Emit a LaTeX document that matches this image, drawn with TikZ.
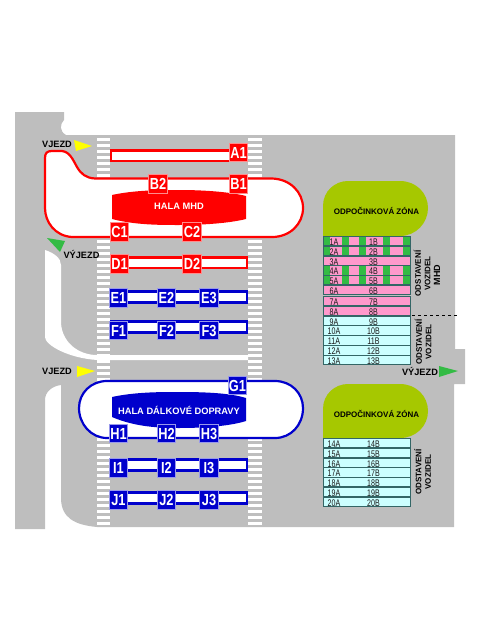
\documentclass[tikz,border=0pt]{standalone}
\usepackage{fontspec}
\setmainfont{Liberation Sans}
\newfontfamily\tallfont[FakeStretch=0.8]{Liberation Sans}
\newfontfamily\rowfont[FakeStretch=0.74]{Liberation Sans}
\definecolor{roadgray}{HTML}{BEBEBE}
\definecolor{zonegreen}{HTML}{A6C800}
\definecolor{arrowgreen}{HTML}{33BB44}
\definecolor{arrowyellow}{HTML}{FFFF00}
\definecolor{rowpink}{HTML}{FF99CC}
\definecolor{rowcyan}{HTML}{CCFFFF}
\definecolor{rowline}{HTML}{336666}
\definecolor{hallblue}{HTML}{0000CC}
\begin{document}
\begin{tikzpicture}[
    x=1pt, y=-1pt,
    redstop/.style={draw=red!45, line width=0.6pt, fill=red, text=white, minimum size=18.5pt,
                inner sep=0pt, font=\tallfont\fontsize{16}{16}\selectfont\bfseries},
    bluestop/.style={redstop, draw=hallblue!40, fill=hallblue},
    redbar/.style={draw=red, line width=2.2pt, fill=white},
    bluebar/.style={draw=hallblue, line width=2.2pt, fill=white},
    halltext/.style={text=white, inner sep=0pt, font=\fontsize{9.3}{9.3}\selectfont\bfseries},
    signtext/.style={inner sep=0pt, font=\fontsize{9.2}{9.2}\selectfont\bfseries},
    zonetext/.style={inner sep=0pt, font=\fontsize{8}{8}\selectfont\bfseries},
    sidetext/.style={rotate=90, align=center, inner sep=0pt, font=\fontsize{8}{8}\selectfont\bfseries},
    rowbox/.style={draw=rowline, line width=0.7pt},
    rowtext/.style={inner sep=0pt, text=black!90, font=\rowfont\fontsize{9.6}{9.6}\selectfont}]
    \useasboundingbox (0,0) rectangle (480,640);
    % road surface
    \fill[roadgray] (15,112) -- (64,112) -- (64,120) .. controls (60,124) and (59,131) .. (66,135)
        -- (455,135) -- (455,349) -- (465,349) -- (465,384) -- (454,384) -- (454,527) -- (97,527)
        .. controls (75,525) and (61,518) .. (61,498) -- (61,385)
        .. controls (52,386) and (45,392) .. (45,400) -- (45,529) -- (15,529) -- cycle;
    \fill[white] (45,250) .. controls (54,253) and (61,258) .. (61,265) -- (61,323)
        .. controls (62,342) and (78,355) .. (97,355) -- (248,355) -- (248,360) -- (97,360)
        .. controls (68,358) and (45,345) .. (45,337) -- cycle;
    % crossings
    \foreach \i in {0,...,64} {
        \fill[white] (97,137.5+6*\i) rectangle (110,141+6*\i);
        \fill[white] (248,137.5+6*\i) rectangle (262,141+6*\i);
    }
    % halls
    \draw[redbar] (45,158) .. controls (45,153) and (47,151) .. (52,151) -- (62,151)
        .. controls (70,152) and (73,160) .. (77,167) .. controls (81,174) and (86,178) .. (95,178.5)
        -- (272,178.5) .. controls (290,179) and (303,192) .. (303,208)
        .. controls (303,224) and (290,237) .. (272,237) -- (72,237)
        .. controls (55,236) and (45,222) .. (45,208) -- cycle;
    \fill[red] (112,195) .. controls (135,190) and (160,190) .. (179,190)
        .. controls (205,190) and (230,192) .. (246,196) -- (246,219)
        .. controls (230,223) and (205,225) .. (179,225)
        .. controls (160,225) and (135,225) .. (112,219) -- cycle;
    \node[halltext] (halamhd) at (179,206) {HALA MHD};
    \draw[bluebar] (107,381) -- (275,381) .. controls (291,381) and (303,393) .. (303,408)
        .. controls (303,425) and (291,438) .. (275,438) -- (107,438)
        .. controls (91,438) and (79,424) .. (79,408) .. controls (79,393) and (91,381) .. (107,381) -- cycle;
    \fill[hallblue] (112,397) .. controls (135,392) and (160,392) .. (179,392)
        .. controls (205,392) and (230,393) .. (246,398) -- (246,421)
        .. controls (230,426) and (205,428) .. (179,428)
        .. controls (160,428) and (135,427) .. (112,417) -- cycle;
    \node[halltext] (haladalkove) at (179,410.5) {HALA DÁLKOVÉ DOPRAVY};
    % bars
    \draw[redbar] (111,150.5) rectangle (232,161);
    \draw[redbar] (111,257.5) rectangle (247,268);
    \foreach \y in {291.5,321.5,459.5,492.5}
        \draw[bluebar] (111,\y) rectangle (247,\y+11);
    % stops
    \foreach \n/\x/\y in {A1/238.5/152.5, B1/238.5/184, B2/158/184, C1/119.5/232, C2/192/232, D1/119.5/264, D2/192/264}
        \node[redstop] (\n) at (\x,\y) {\n};
    \foreach \n/\x/\y in {E1/118.5/298, E2/166.5/298, E3/209/298, F1/118.5/330.5, F2/166.5/330.5, F3/209/330.5,
            G1/237.5/385.5, H1/118.5/433.5, H2/166.5/433.5, H3/209/433.5,
            I1/118.5/468, I2/166.5/468, I3/209/468, J1/118.5/500, J2/166.5/500, J3/209/500}
        \node[bluestop] (\n) at (\x,\y) {\n};
    % rest zones
    \foreach \t/\b/\z in {181/236/zonea, 384/438/zoneb} {
        \fill[zonegreen] (323,\b) -- (323,\t+25) .. controls (323,\t+10) and (335,\t) .. (348,\t) -- (400,\t)
            .. controls (416,\t) and (428,\t+12) .. (428,\t+27)
            .. controls (428,\t+42) and (416,\b) .. (400,\b) -- cycle;
        \node[zonetext] (\z) at (376.5,\t+30) {ODPOČINKOVÁ ZÓNA};
    }
    % parking rows
    \foreach \n/\y/\c in {1/236/rowpink, 2/246/rowpink, 3/256/rowpink, 4/265.5/rowpink, 5/275/rowpink, 6/285/rowpink,
            7/296/rowpink, 8/306/rowpink, 9/316/rowcyan, 10/325.5/rowcyan, 11/335.5/rowcyan, 12/345.5/rowcyan, 13/355/rowcyan,
            14/438/rowcyan, 15/448/rowcyan, 16/458/rowcyan, 17/467.5/rowcyan, 18/477/rowcyan, 19/487/rowcyan, 20/497/rowcyan} {
        \fill[\c] (323,\y) rectangle (410,\y+9.8);
    }
    \foreach \y in {236,246,265.5,275}
        \foreach \x/\w in {323/7, 342/7, 359/7, 383/6.5, 403/7}
            \fill[arrowgreen] (\x,\y) rectangle (\x+\w,\y+9.8);
    \foreach \n/\y/\c in {1/236/rowpink, 2/246/rowpink, 3/256/rowpink, 4/265.5/rowpink, 5/275/rowpink, 6/285/rowpink,
            7/296/rowpink, 8/306/rowpink, 9/316/rowcyan, 10/325.5/rowcyan, 11/335.5/rowcyan, 12/345.5/rowcyan, 13/355/rowcyan,
            14/438/rowcyan, 15/448/rowcyan, 16/458/rowcyan, 17/467.5/rowcyan, 18/477/rowcyan, 19/487/rowcyan, 20/497/rowcyan} {
        \draw[rowbox] (323,\y) rectangle (410,\y+9.8);
        \node[rowtext] (row\n a) at (334,\y+5.8) {\n A};
        \node[rowtext] (row\n b) at (373.5,\y+5.8) {\n B};
    }
    \draw[black, line width=1pt, dashed] (412,315.7) -- (458,315.7);
    \node[sidetext] (odstmhd) at (422,273.5) {ODSTAVENÍ\\[1.5pt]VOZIDEL};
    \node[rotate=90, inner sep=0pt, font=\fontsize{9}{9}\selectfont\bfseries] (mhd) at (437,275) {MHD};
    \node[sidetext] (odsta) at (423,342) {ODSTAVENÍ\\[1.5pt]VOZIDEL};
    \node[sidetext] (odstb) at (422.5,472) {ODSTAVENÍ\\[1.5pt]VOZIDEL};
    % entries and exits
    \fill[arrowyellow] (74,140) -- (76,151) -- (92,146) -- cycle;
    \fill[arrowyellow] (77,366) -- (77,377) -- (95,371) -- cycle;
    \fill[arrowgreen] (47,238) -- (65,241) -- (60,252) -- cycle;
    \fill[arrowgreen] (439,366) -- (439,377) -- (458,371) -- cycle;
    \node[signtext] (vjezda) at (57,144) {VJEZD};
    \node[signtext] (vjezdb) at (57,371) {VJEZD};
    \node[signtext] (vyjezda) at (81.5,254) {VÝJEZD};
    \node[signtext] (vyjezdb) at (420,371) {VÝJEZD};
\end{tikzpicture}
\end{document}
